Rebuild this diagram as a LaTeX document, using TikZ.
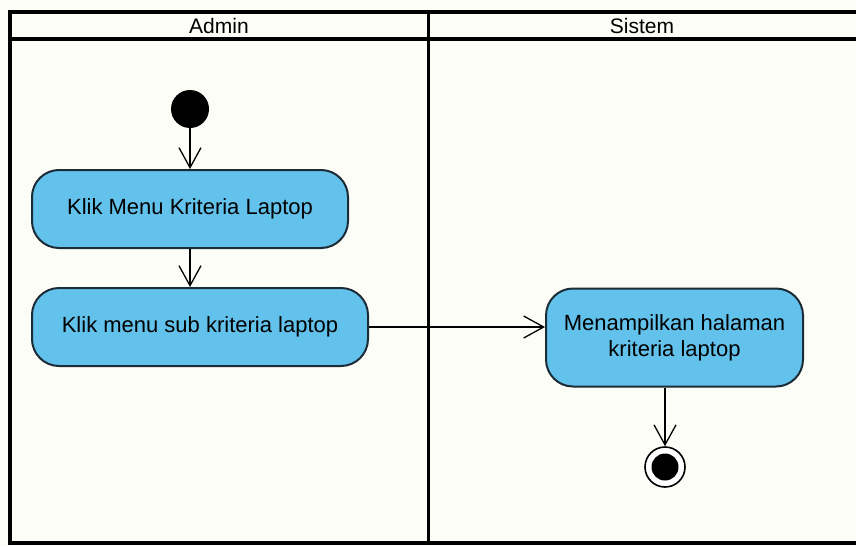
\documentclass[tikz,border=0pt]{standalone}
\usepackage{fontspec}
\setmainfont{Liberation Sans}
\usetikzlibrary{arrows.meta}

\begin{document}
\begin{tikzpicture}[x=1pt,y=-1pt,
  activity/.style={rectangle,rounded corners=27pt,draw=boxline,line width=2pt,fill=boxblue,align=center,font=\fontsize{22}{26}\selectfont},
  flow/.style={line width=1.3pt,-{Straight Barb[length=20pt,width=22pt,line width=1.3pt]}}]
\definecolor{boxblue}{RGB}{98,194,236}
\definecolor{boxline}{RGB}{28,44,54}
\definecolor{paper}{RGB}{253,253,248}
\fill[paper] (0,0) rectangle (856,546);
\useasboundingbox (0,0) rectangle (856,546);
\draw[line width=3.2pt] (10,12) rectangle (860,543);
\draw[line width=3.2pt] (10,39) -- (860,39);
\draw[line width=3pt] (428,12) -- (428,543);
\node [font=\fontsize{21}{25}\selectfont] (admin) at (219,26) {Admin};
\node [font=\fontsize{21}{25}\selectfont] (sistem) at (642,26) {Sistem};
\node [circle,fill=black,inner sep=0pt,minimum size=38pt] (start) at (190,109) {};
\node [activity,minimum width=316pt,minimum height=78pt] (klikmenu) at (190,209) {Klik Menu Kriteria Laptop};
\node [activity,minimum width=336pt,minimum height=78pt] (kliksub) at (200,327) {Klik menu sub kriteria laptop};
\node [activity,minimum width=257pt,minimum height=98pt] (tampil) at (674.5,337.5) {Menampilkan halaman\\kriteria laptop};
\node [circle,draw,line width=1.6pt,fill=white,inner sep=0pt,minimum size=40pt] (end) at (665,467) {};
\node [circle,fill=black,inner sep=0pt,minimum size=27pt] (endin) at (end) {};
\draw[flow] (start) -- (klikmenu);
\draw[flow] (klikmenu.south) -- (klikmenu.south |- kliksub.north);
\draw[flow] (kliksub.east) -- (kliksub.east -| tampil.west);
\draw[flow] (end |- tampil.south) -- (end.north);
\end{tikzpicture}
\end{document}
